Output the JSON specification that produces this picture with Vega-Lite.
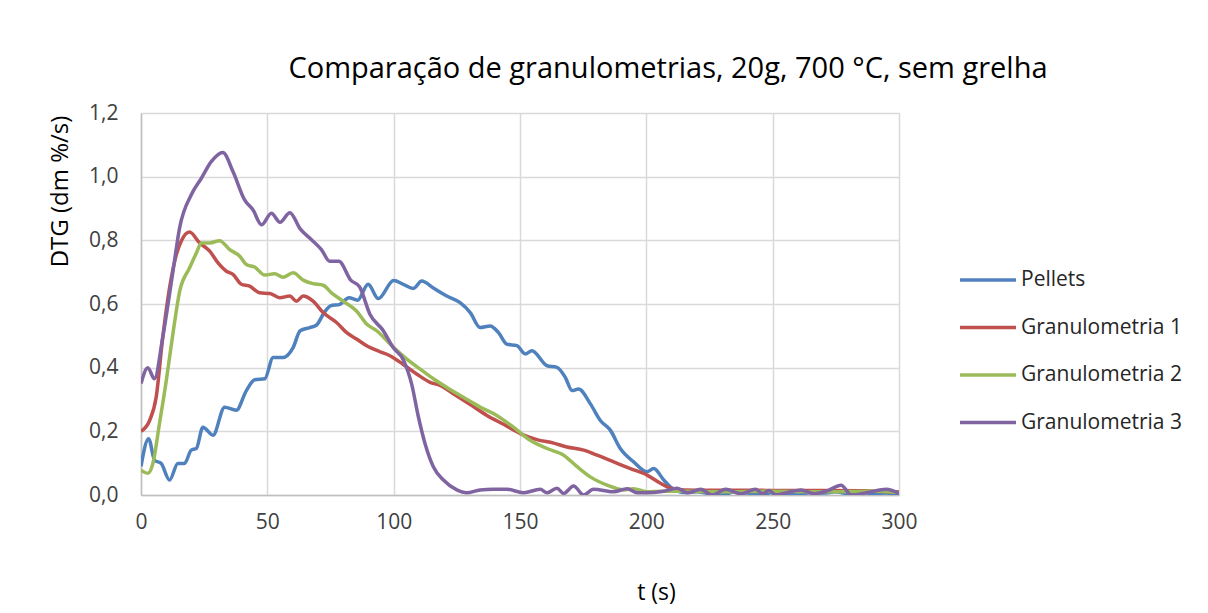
{
  "$schema": "https://vega.github.io/schema/vega-lite/v6.json",
  "width": 758,
  "height": 382,
  "autosize": {"type": "none"},
  "padding": {"left": 141, "top": 113, "right": 309, "bottom": 118},
  "background": "white",
  "title": {
    "text": "Comparação de granulometrias, 20g, 700 °C, sem grelha",
    "anchor": "middle",
    "frame": "group",
    "dx": 148,
    "offset": 18,
    "font": "Open Sans",
    "fontSize": 29,
    "fontWeight": "normal",
    "color": "#000000"
  },
  "datasets": {
    "pellets": [
      {"t":0,"v":0.09},{"t":3,"v":0.177},{"t":5.4,"v":0.109},{"t":8,"v":0.099},{"t":11.3,"v":0.047},{"t":14.6,"v":0.099},{"t":17.2,"v":0.099},{"t":19.9,"v":0.141},{"t":21.9,"v":0.146},{"t":24.5,"v":0.213},{"t":28.5,"v":0.188},{"t":33.1,"v":0.276},{"t":37.7,"v":0.266},{"t":41.7,"v":0.328},{"t":45,"v":0.362},{"t":49,"v":0.365},{"t":52.3,"v":0.432},{"t":56.2,"v":0.432},{"t":60.2,"v":0.463},{"t":63,"v":0.516},{"t":66.8,"v":0.526},{"t":69.5,"v":0.534},{"t":72.5,"v":0.573},{"t":75,"v":0.594},{"t":78.7,"v":0.599},{"t":82.3,"v":0.62},{"t":85.7,"v":0.612},{"t":89.9,"v":0.662},{"t":93.9,"v":0.617},{"t":100,"v":0.674},{"t":103.8,"v":0.662},{"t":107.8,"v":0.649},{"t":111.1,"v":0.672},{"t":115.7,"v":0.65},{"t":121,"v":0.625},{"t":126.3,"v":0.604},{"t":130.3,"v":0.573},{"t":134.2,"v":0.526},{"t":138.2,"v":0.531},{"t":141.5,"v":0.51},{"t":144.8,"v":0.474},{"t":148.8,"v":0.469},{"t":152.1,"v":0.443},{"t":154.7,"v":0.453},{"t":160.7,"v":0.406},{"t":164.6,"v":0.401},{"t":167.9,"v":0.37},{"t":170.6,"v":0.328},{"t":173.2,"v":0.333},{"t":177.8,"v":0.287},{"t":181.8,"v":0.234},{"t":185.8,"v":0.203},{"t":189.7,"v":0.146},{"t":195,"v":0.104},{"t":200.3,"v":0.073},{"t":202.9,"v":0.083},{"t":206.9,"v":0.047},{"t":210.2,"v":0.021},{"t":215,"v":0.008},{"t":220,"v":0.01},{"t":225,"v":0.004},{"t":230,"v":0.0},{"t":235,"v":0.01},{"t":240,"v":0.006},{"t":245,"v":0.0},{"t":250,"v":0.008},{"t":255,"v":0.004},{"t":260,"v":0.0},{"t":265,"v":0.008},{"t":270,"v":0.006},{"t":275,"v":0.01},{"t":280,"v":0.004},{"t":285,"v":0.008},{"t":290,"v":0.005},{"t":295,"v":0.006},{"t":300,"v":0.0}
    ],
    "g1": [
      {"t":0,"v":0.2},{"t":3.4,"v":0.234},{"t":6,"v":0.307},{"t":8.6,"v":0.495},{"t":11.3,"v":0.651},{"t":14,"v":0.755},{"t":15.9,"v":0.797},{"t":19.2,"v":0.826},{"t":23.2,"v":0.792},{"t":27.2,"v":0.766},{"t":30.5,"v":0.729},{"t":33.8,"v":0.703},{"t":36.4,"v":0.693},{"t":39.7,"v":0.662},{"t":43,"v":0.656},{"t":47,"v":0.635},{"t":51,"v":0.633},{"t":54.9,"v":0.62},{"t":58.9,"v":0.625},{"t":61.5,"v":0.609},{"t":64.2,"v":0.625},{"t":68.1,"v":0.609},{"t":72.1,"v":0.573},{"t":77.4,"v":0.542},{"t":81.4,"v":0.51},{"t":85.3,"v":0.49},{"t":89.3,"v":0.469},{"t":94.6,"v":0.45},{"t":98.5,"v":0.4375},{"t":103.8,"v":0.41},{"t":109.1,"v":0.38},{"t":114.4,"v":0.354},{"t":118.4,"v":0.344},{"t":123.6,"v":0.318},{"t":130.3,"v":0.284},{"t":136.9,"v":0.25},{"t":143.5,"v":0.222},{"t":150.1,"v":0.193},{"t":156.7,"v":0.174},{"t":163.3,"v":0.163},{"t":168.6,"v":0.151},{"t":175.2,"v":0.141},{"t":180.5,"v":0.125},{"t":187.1,"v":0.104},{"t":193.7,"v":0.083},{"t":200.3,"v":0.0625},{"t":205.6,"v":0.037},{"t":209.6,"v":0.021},{"t":215,"v":0.016},{"t":225,"v":0.015},{"t":240,"v":0.015},{"t":255,"v":0.014},{"t":270,"v":0.014},{"t":285,"v":0.013},{"t":300,"v":0.01}
    ],
    "g2": [
      {"t":0,"v":0.078},{"t":2.7,"v":0.068},{"t":4.7,"v":0.099},{"t":7.3,"v":0.224},{"t":10,"v":0.359},{"t":12.6,"v":0.505},{"t":15.3,"v":0.64},{"t":19.2,"v":0.713},{"t":21.9,"v":0.76},{"t":23.9,"v":0.792},{"t":27.2,"v":0.792},{"t":31.1,"v":0.799},{"t":35.1,"v":0.771},{"t":39.1,"v":0.75},{"t":41.7,"v":0.724},{"t":45,"v":0.716},{"t":49,"v":0.691},{"t":52.9,"v":0.695},{"t":56.2,"v":0.684},{"t":60.2,"v":0.698},{"t":64.2,"v":0.675},{"t":68.1,"v":0.664},{"t":72.1,"v":0.659},{"t":75.4,"v":0.635},{"t":80,"v":0.609},{"t":85.3,"v":0.578},{"t":89.3,"v":0.537},{"t":93.3,"v":0.516},{"t":97.9,"v":0.48},{"t":101,"v":0.456},{"t":105.2,"v":0.427},{"t":110.4,"v":0.396},{"t":115.7,"v":0.365},{"t":121,"v":0.338},{"t":127.6,"v":0.307},{"t":134.2,"v":0.276},{"t":140.8,"v":0.25},{"t":147.4,"v":0.213},{"t":154,"v":0.172},{"t":160.7,"v":0.146},{"t":167.3,"v":0.125},{"t":172.6,"v":0.089},{"t":177.8,"v":0.057},{"t":184.5,"v":0.031},{"t":191,"v":0.016},{"t":195,"v":0.02},{"t":200,"v":0.01},{"t":207,"v":0.012},{"t":215,"v":0.012},{"t":230,"v":0.01},{"t":250,"v":0.012},{"t":270,"v":0.01},{"t":290,"v":0.012},{"t":300,"v":0.008}
    ],
    "g3": [
      {"t":0,"v":0.35},{"t":2.7,"v":0.4},{"t":5.3,"v":0.365},{"t":8.6,"v":0.495},{"t":12.6,"v":0.7},{"t":15.3,"v":0.84},{"t":19.9,"v":0.943},{"t":23.9,"v":0.995},{"t":27.8,"v":1.047},{"t":32.4,"v":1.076},{"t":36.4,"v":1.016},{"t":41,"v":0.927},{"t":44.3,"v":0.896},{"t":47.7,"v":0.849},{"t":51.6,"v":0.885},{"t":55,"v":0.857},{"t":58.9,"v":0.887},{"t":63,"v":0.836},{"t":67.5,"v":0.802},{"t":71.4,"v":0.771},{"t":74.7,"v":0.734},{"t":78.3,"v":0.734},{"t":83,"v":0.675},{"t":86.5,"v":0.654},{"t":90.6,"v":0.568},{"t":95.9,"v":0.516},{"t":99.8,"v":0.463},{"t":103.8,"v":0.425},{"t":107.1,"v":0.349},{"t":109.8,"v":0.245},{"t":112.4,"v":0.162},{"t":115.7,"v":0.089},{"t":119.7,"v":0.047},{"t":125,"v":0.016},{"t":128.9,"v":0.007},{"t":134.2,"v":0.016},{"t":139.5,"v":0.018},{"t":144.8,"v":0.018},{"t":151.4,"v":0.007},{"t":158,"v":0.018},{"t":160.7,"v":0.007},{"t":164.6,"v":0.021},{"t":167.3,"v":0.005},{"t":171.2,"v":0.028},{"t":175.2,"v":0.0},{"t":179.1,"v":0.018},{"t":187,"v":0.01},{"t":192.4,"v":0.02},{"t":196.4,"v":0.007},{"t":203,"v":0.008},{"t":207,"v":0.012},{"t":212.2,"v":0.021},{"t":216.2,"v":0.007},{"t":221.5,"v":0.018},{"t":226.1,"v":0.0},{"t":231.4,"v":0.018},{"t":237.4,"v":0.004},{"t":243.3,"v":0.018},{"t":246,"v":0.004},{"t":248.6,"v":0.014},{"t":251.3,"v":0.0},{"t":255.9,"v":0.008},{"t":261.2,"v":0.016},{"t":266.5,"v":0.004},{"t":271.8,"v":0.014},{"t":277.1,"v":0.031},{"t":281.1,"v":0.0},{"t":287.7,"v":0.008},{"t":295,"v":0.018},{"t":300,"v":0.005}
    ]
  },
  "layer": [
    {"data": {"name": "pellets"}, "transform": [{"calculate": "'Pellets'", "as": "s"}], "mark": {"type": "line", "interpolate": "monotone", "strokeWidth": 3.5, "clip": true}, "encoding": {"x": {"field": "t", "type": "quantitative"}, "y": {"field": "v", "type": "quantitative"}, "color": {"field": "s", "type": "nominal"}}},
    {"data": {"name": "g1"}, "transform": [{"calculate": "'Granulometria 1'", "as": "s"}], "mark": {"type": "line", "interpolate": "monotone", "strokeWidth": 3.5, "clip": true}, "encoding": {"x": {"field": "t", "type": "quantitative"}, "y": {"field": "v", "type": "quantitative"}, "color": {"field": "s", "type": "nominal"}}},
    {"data": {"name": "g2"}, "transform": [{"calculate": "'Granulometria 2'", "as": "s"}], "mark": {"type": "line", "interpolate": "monotone", "strokeWidth": 3.5, "clip": true}, "encoding": {"x": {"field": "t", "type": "quantitative"}, "y": {"field": "v", "type": "quantitative"}, "color": {"field": "s", "type": "nominal"}}},
    {"data": {"name": "g3"}, "transform": [{"calculate": "'Granulometria 3'", "as": "s"}], "mark": {"type": "line", "interpolate": "monotone", "strokeWidth": 3.5, "clip": true}, "encoding": {"x": {"field": "t", "type": "quantitative"}, "y": {"field": "v", "type": "quantitative"}, "color": {"field": "s", "type": "nominal"}}}
  ],
  "resolve": {"scale": {"color": "shared"}},
  "encoding": {
    "x": {
      "field": "t", "type": "quantitative",
      "scale": {"domain": [0, 300], "nice": false, "zero": false},
      "axis": {"title": "t (s)", "values": [0, 50, 100, 150, 200, 250, 300], "format": "d", "labelPadding": 16, "titlePadding": 49, "titleX": 515, "labelFlush": false}
    },
    "y": {
      "field": "v", "type": "quantitative",
      "scale": {"domain": [0, 1.2], "nice": false},
      "axis": {"title": "DTG (dm %/s)", "values": [0, 0.2, 0.4, 0.6, 0.8, 1.0, 1.2], "format": ".1f", "labelPadding": 23, "titlePadding": 16, "titleY": 78, "titleFontSize": 24}
    },
    "color": {
      "field": "s", "type": "nominal",
      "scale": {"domain": ["Pellets", "Granulometria 1", "Granulometria 2", "Granulometria 3"], "range": ["#4F81BD", "#C0504D", "#9BBB59", "#8064A2"]},
      "legend": {"title": null, "orient": "none", "legendX": 817, "legendY": 137, "symbolType": "stroke", "symbolSize": 3136, "symbolStrokeWidth": 3.5, "labelFontSize": 21, "labelFont": "Open Sans", "labelColor": "#262626", "labelLimit": 400, "rowPadding": 7.5, "labelOffset": 3, "padding": 0}
    }
  },
  "config": {
    "locale": {"number": {"decimal": ",", "thousands": ".", "grouping": [3], "currency": ["", " €"]}},
    "font": "Open Sans",
    "view": {"stroke": null},
    "axis": {
      "labelFont": "Open Sans", "labelFontSize": 21, "labelColor": "#404040",
      "titleFont": "Open Sans", "titleFontSize": 23, "titleFontWeight": "normal", "titleColor": "#000000",
      "ticks": false, "grid": true, "gridColor": "#d9d9d9", "gridWidth": 1.5,
      "domainColor": "#bfbfbf", "domainWidth": 1.5
    }
  }
}
